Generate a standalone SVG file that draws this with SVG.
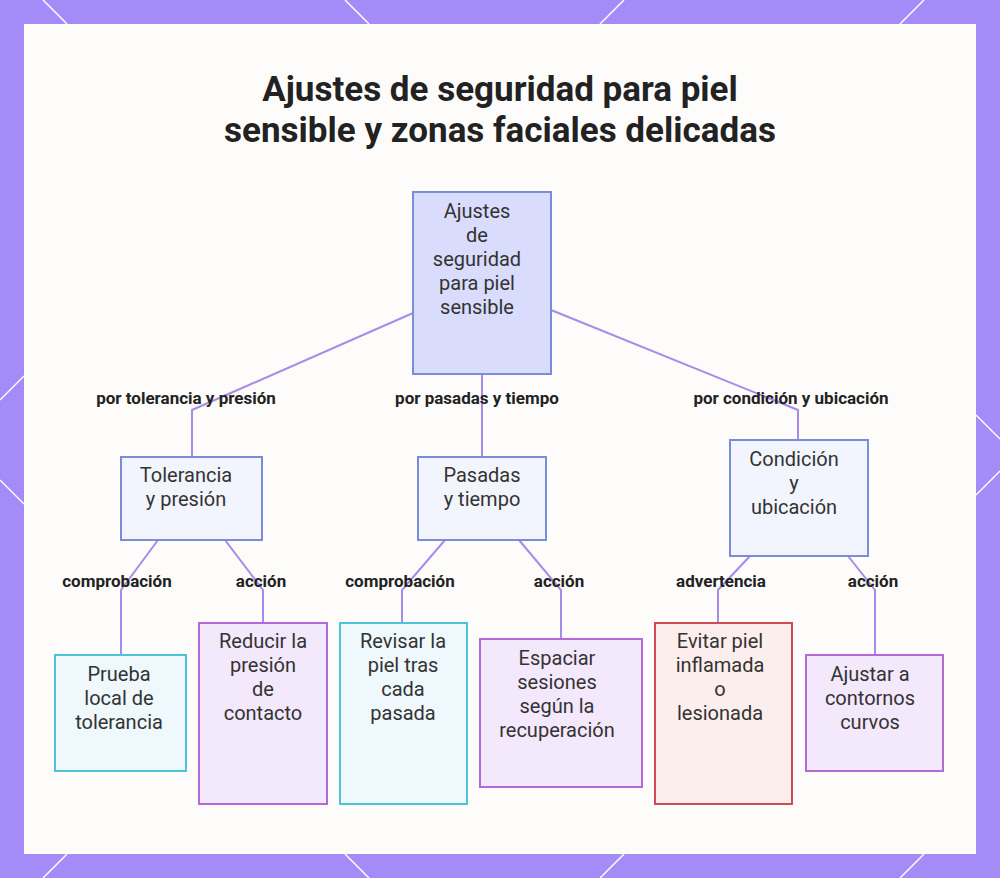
<svg xmlns="http://www.w3.org/2000/svg" width="1000" height="878" viewBox="0 0 1000 878">
<style>
.n{stroke-width:2}
.t{font-family:Roboto,"Liberation Sans",sans-serif;font-size:20px;fill:#333;text-anchor:middle}
.l{font-family:Roboto,"Liberation Sans",sans-serif;font-size:17px;font-weight:bold;fill:#222;text-anchor:middle}
.c{fill:none;stroke:#a78be8;stroke-width:2}
.b{stroke:#fff;stroke-width:1.5}
</style>
<rect width="1000" height="878" fill="#a58bf7"/>
<g class="b">
<line x1="43" y1="0" x2="67" y2="24"/><line x1="345" y1="0" x2="369" y2="24"/><line x1="600" y1="24" x2="624" y2="0"/><line x1="900" y1="24" x2="924" y2="0"/>
<line x1="43" y1="878" x2="67" y2="854"/><line x1="345" y1="854" x2="369" y2="878"/><line x1="600" y1="878" x2="624" y2="854"/><line x1="900" y1="878" x2="924" y2="854"/>
<line x1="0" y1="400" x2="24" y2="376"/><line x1="0" y1="480" x2="24" y2="504"/><line x1="976" y1="415" x2="1000" y2="439"/><line x1="976" y1="495" x2="1000" y2="471"/>
</g>
<rect x="24" y="24" width="952" height="830" fill="#fdfcfb"/>
<text font-family="Roboto,'Liberation Sans',sans-serif" font-size="35" font-weight="bold" fill="#222" text-anchor="middle"><tspan x="500" y="101">Ajustes de seguridad para piel</tspan><tspan x="500" y="142">sensible y zonas faciales delicadas</tspan></text>
<g id="connectors">
<polyline class="c" points="413,313 192,410 192,457"/>
<polyline class="c" points="482,374 482,457"/>
<polyline class="c" points="551,310 798,410 798,440"/>
<polyline class="c" points="158,540 121,590 121,655"/>
<polyline class="c" points="225,540 263,590 263,623"/>
<polyline class="c" points="445,540 402,590 402,623"/>
<polyline class="c" points="519,540 561,590 561,639"/>
<polyline class="c" points="750,556 718,590 718,623"/>
<polyline class="c" points="848,556 875,590 875,655"/>
</g>
<g id="labels">
<text class="l" x="186" y="404">por tolerancia y presión</text>
<text class="l" x="477" y="404">por pasadas y tiempo</text>
<text class="l" x="791" y="404">por condición y ubicación</text>
<text class="l" x="117" y="587">comprobación</text>
<text class="l" x="261" y="587">acción</text>
<text class="l" x="400" y="587">comprobación</text>
<text class="l" x="559" y="587">acción</text>
<text class="l" x="721" y="587">advertencia</text>
<text class="l" x="873" y="587">acción</text>
</g>
<g id="root"><rect class="n" x="413" y="192" width="138" height="182" fill="#d9dcfc" stroke="#7a8ed8"/><text class="t"><tspan x="477" y="218">Ajustes</tspan><tspan x="477" y="242">de</tspan><tspan x="477" y="266">seguridad</tspan><tspan x="477" y="290">para piel</tspan><tspan x="477" y="314">sensible</tspan></text></g>
<g id="tol"><rect class="n" x="121" y="457" width="141" height="83" fill="#f3f5fe" stroke="#7a8ed8"/><text class="t"><tspan x="186" y="482">Tolerancia</tspan><tspan x="186" y="506">y presión</tspan></text></g>
<g id="pas"><rect class="n" x="418" y="457" width="128" height="83" fill="#f3f5fe" stroke="#7a8ed8"/><text class="t"><tspan x="482" y="482">Pasadas</tspan><tspan x="482" y="506">y tiempo</tspan></text></g>
<g id="cond"><rect class="n" x="730" y="440" width="138" height="116" fill="#f3f5fe" stroke="#7a8ed8"/><text class="t"><tspan x="794" y="466">Condición</tspan><tspan x="794" y="490">y</tspan><tspan x="794" y="514">ubicación</tspan></text></g>
<g id="prueba"><rect class="n" x="55" y="655" width="131" height="116" fill="#eef8fd" stroke="#4cc4d8"/><text class="t"><tspan x="119" y="681">Prueba</tspan><tspan x="119" y="705">local de</tspan><tspan x="119" y="729">tolerancia</tspan></text></g>
<g id="reducir"><rect class="n" x="199" y="623" width="128" height="181" fill="#f3e8fc" stroke="#b36ad6"/><text class="t"><tspan x="263" y="648">Reducir la</tspan><tspan x="263" y="672">presión</tspan><tspan x="263" y="696">de</tspan><tspan x="263" y="720">contacto</tspan></text></g>
<g id="revisar"><rect class="n" x="340" y="623" width="127" height="181" fill="#eef8fd" stroke="#4cc4d8"/><text class="t"><tspan x="403" y="648">Revisar la</tspan><tspan x="403" y="672">piel tras</tspan><tspan x="403" y="696">cada</tspan><tspan x="403" y="720">pasada</tspan></text></g>
<g id="espaciar"><rect class="n" x="480" y="639" width="162" height="148" fill="#f3e8fc" stroke="#b36ad6"/><text class="t"><tspan x="557" y="665">Espaciar</tspan><tspan x="557" y="689">sesiones</tspan><tspan x="557" y="713">según la</tspan><tspan x="557" y="737">recuperación</tspan></text></g>
<g id="evitar"><rect class="n" x="655" y="623" width="137" height="181" fill="#fdeeee" stroke="#d04a55"/><text class="t"><tspan x="720" y="648">Evitar piel</tspan><tspan x="720" y="672">inflamada</tspan><tspan x="720" y="696">o</tspan><tspan x="720" y="720">lesionada</tspan></text></g>
<g id="ajustar"><rect class="n" x="806" y="655" width="137" height="116" fill="#f3e8fc" stroke="#b36ad6"/><text class="t"><tspan x="870" y="681">Ajustar a</tspan><tspan x="870" y="705">contornos</tspan><tspan x="870" y="729">curvos</tspan></text></g>
</svg>
